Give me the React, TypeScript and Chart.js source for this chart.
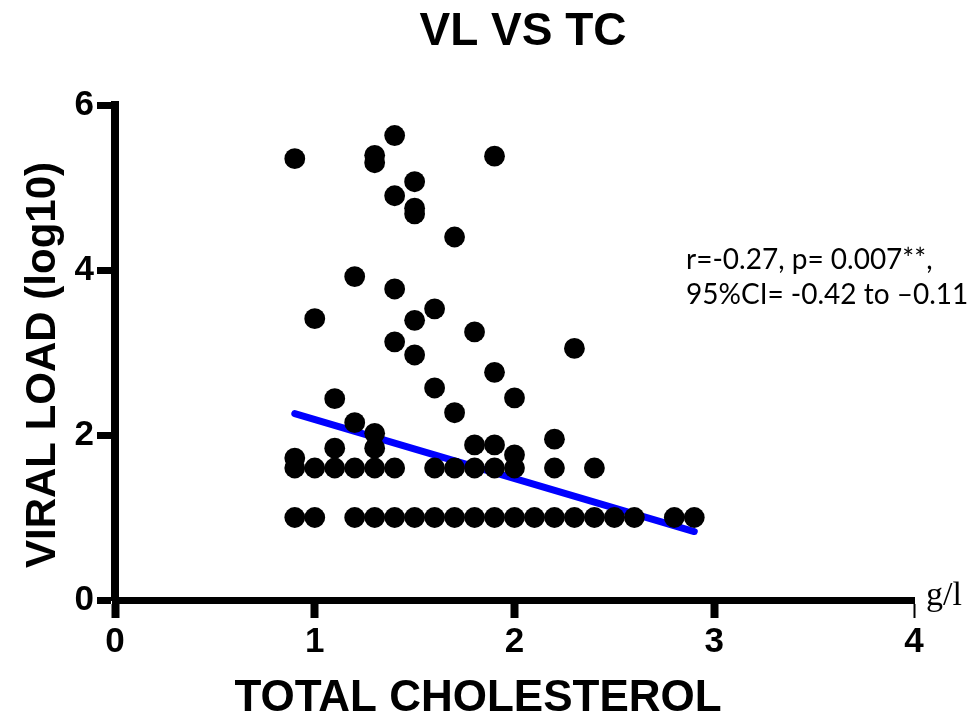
import React, { useEffect, useRef } from "react";
import { Chart, registerables } from "chart.js";

Chart.register(...registerables);

const TITLE = "VL VS TC";
const X_TITLE = "TOTAL CHOLESTEROL";
const Y_TITLE = "VIRAL LOAD (log10)";
const X_UNIT = "g/l";
const STATS_LINES = ["r=-0.27, p= 0.007**,", "95%CI= -0.42 to \u20130.11"];

const X_TICKS = [0, 1, 2, 3, 4];
const Y_TICKS = [0, 2, 4, 6];

// Total cholesterol (g/l)
const pointX = [
  0.9, 1.0, 1.2, 1.3, 1.4, 1.5, 1.6, 1.7, 1.8, 1.9, 2.0, 2.1, 2.2, 2.3, 2.4, 2.5, 2.6, 2.8, 2.9,
  0.9, 1.0, 1.1, 1.2, 1.3, 1.4, 1.6, 1.7, 1.8, 1.9, 2.0, 2.2, 2.4,
  0.9, 1.1, 1.3, 1.3, 1.2, 1.1, 1.6, 1.7, 1.9, 2.0, 1.8, 1.9, 2.0, 2.2, 1.5, 2.3,
  0.9, 1.4, 1.3, 1.3, 1.9, 1.5, 1.4, 1.5, 1.5, 1.7, 1.2, 1.4, 1.0, 1.6, 1.5, 1.8, 1.4,
];
// Viral load (log10)
const pointY = [
  1, 1, 1, 1, 1, 1, 1, 1, 1, 1, 1, 1, 1, 1, 1, 1, 1, 1, 1,
  1.6, 1.6, 1.6, 1.6, 1.6, 1.6, 1.6, 1.6, 1.6, 1.6, 1.6, 1.6, 1.6,
  1.72, 1.84, 1.84, 2.02, 2.15, 2.44, 2.57, 2.27, 2.76, 2.45, 1.88, 1.88, 1.76, 1.95, 2.97, 3.05,
  5.35, 5.63, 5.39, 5.3, 5.38, 5.07, 4.9, 4.75, 4.68, 4.4, 3.92, 3.77, 3.41, 3.53, 3.39, 3.25, 3.13,
];

// Regression line endpoints
const fitX = [0.9, 2.9];
const fitY = [2.26, 0.83];

const SANS = "'Liberation Sans', Arial, sans-serif";

const textPlugin = {
  id: "texts",
  afterDraw(chart: any) {
    const ctx = chart.ctx as CanvasRenderingContext2D;
    ctx.save();
    ctx.fillStyle = "#000";
    ctx.textAlign = "center";
    ctx.textBaseline = "middle";
    ctx.font = `bold 46px ${SANS}`;
    ctx.fillText(TITLE, 523, 32);

    ctx.font = `bold 44px ${SANS}`;
    ctx.fillText(X_TITLE, 478, 699);

    ctx.save();
    ctx.translate(43, 365);
    ctx.rotate(-Math.PI / 2);
    ctx.font = `bold 42px ${SANS}`;
    ctx.fillText(Y_TITLE, 0, 0);
    ctx.restore();

    ctx.textAlign = "left";
    ctx.textBaseline = "alphabetic";
    ctx.font = `28px Lato, 'Open Sans', sans-serif`;
    ctx.fillText(STATS_LINES[0], 686, 269);
    ctx.fillText(STATS_LINES[1], 686, 304);

    ctx.font = `34px 'Liberation Serif', 'Times New Roman', serif`;
    ctx.fillText(X_UNIT, 926, 605);
    ctx.restore();
  },
};

export default function App() {
  const ref = useRef<HTMLCanvasElement | null>(null);
  useEffect(() => {
    if (!ref.current) return;
    const scatter = pointX.map((x, i) => ({ x, y: pointY[i] }));
    const fit = fitX.map((x, i) => ({ x, y: fitY[i] }));
    const chart = new Chart(ref.current, {
      type: "scatter",
      data: {
        datasets: [
          {
            label: "points",
            data: scatter,
            pointRadius: 10.4,
            pointHoverRadius: 10.4,
            pointBorderWidth: 0,
            backgroundColor: "#000",
            borderColor: "#000",
          },
          {
            label: "fit",
            type: "line",
            data: fit,
            borderColor: "#0000ff",
            borderWidth: 7,
            borderCapStyle: "round",
            pointRadius: 0,
            showLine: true,
            fill: false,
          } as any,
        ],
      },
      options: {
        responsive: false,
        animation: false,
        layout: { padding: { left: 0, right: 62, top: 105, bottom: 0 } },
        plugins: { legend: { display: false }, tooltip: { enabled: false }, title: { display: false } },
        scales: {
          x: {
            type: "linear",
            min: 0,
            max: 4,
            afterBuildTicks: (s: any) => {
              s.ticks = X_TICKS.map((v) => ({ value: v }));
            },
            afterFit: (s: any) => {
              s.height = 121;
            },
            ticks: {
              color: "#000",
              font: { family: SANS, size: 35, weight: "bold" },
              padding: 3,
              maxRotation: 0,
            },
            grid: {
              drawOnChartArea: false,
              drawTicks: true,
              tickLength: 18,
              tickWidth: (c: any) => (c.index === X_TICKS.length - 1 ? 2 : 8),
              tickColor: "#000",
              color: "#000",
            },
            border: { display: true, color: "#000", width: 7 },
          },
          y: {
            type: "linear",
            min: 0,
            max: 6,
            afterBuildTicks: (s: any) => {
              s.ticks = Y_TICKS.map((v) => ({ value: v }));
            },
            afterFit: (s: any) => {
              s.width = 115;
            },
            ticks: {
              color: "#000",
              font: { family: SANS, size: 35, weight: "bold" },
              padding: 3,
            },
            grid: {
              drawOnChartArea: false,
              drawTicks: true,
              tickLength: 18,
              tickWidth: 7,
              tickColor: "#000",
              color: "#000",
            },
            border: { display: true, color: "#000", width: 8 },
          },
        },
      } as any,
      plugins: [textPlugin],
    });
    return () => chart.destroy();
  }, []);
  return (
    <div style={{ position: "absolute", left: 0, top: 0, width: 976, height: 721, background: "#fff" }}>
      <canvas ref={ref} width={976} height={721} style={{ width: 976, height: 721, display: "block" }} />
    </div>
  );
}
